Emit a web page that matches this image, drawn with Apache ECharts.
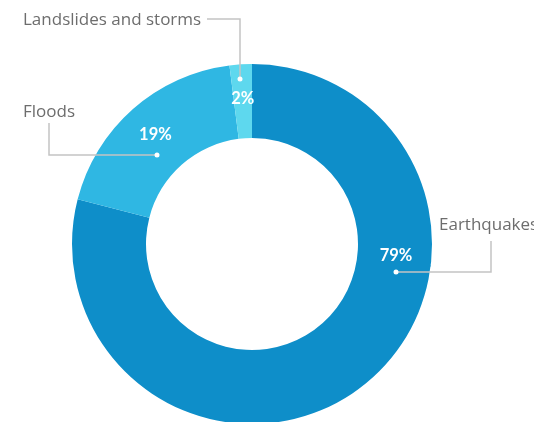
<!DOCTYPE html>
<html>
<head>
    <meta charset="utf-8" />
    <title>Disasters</title>
    <script src="https://cdn.jsdelivr.net/npm/echarts@6/dist/echarts.min.js"></script>
    <style>
        html, body { margin: 0; padding: 0; background: #fff; }
    </style>
</head>
<body>
    <div id="main" style="width:534px;height:422px"></div>
    <script type="text/javascript">

        var categories = ['Earthquakes', 'Floods', 'Landslides and storms'];
        var values = [79, 19, 2];
        var colorList = ['#0e8ec9', '#2fb7e3', '#5ed8ee'];

        // where the percent labels, dots, leader lines and names go (pixels)
        var spots = [
            { pct: [396, 256], dot: [396, 272], bend: [491, 272], end: [491, 241], name: [439, 225] },
            { pct: null,       dot: [157, 155], bend: [49, 155],  end: [49, 123],  name: [23, 112] },
            { pct: null,       dot: [240, 79],  bend: [240, 19],  end: [207, 19],  name: [23, 20] }
        ];

        var chartDom = document.getElementById('main');
        var myChart = echarts.init(chartDom);
        var option;

        var data = categories.map(function (name, index) {
            return {
                name: name,
                value: values[index],
                itemStyle: { color: colorList[index] }
            };
        });

        var pieCenter = [252, 244];
        var pieRadius = [106, 180];

        option = {
            animation: false,
            series: [{
                // the donut itself with the percent labels
                type: 'pie',
                z: 2,
                center: pieCenter,
                radius: pieRadius,
                startAngle: 90,
                clockwise: true,
                silent: true,
                avoidLabelOverlap: false,
                label: {
                    show: true,
                    position: 'inside',
                    formatter: '{d}%',
                    color: '#fff',
                    fontFamily: 'Lato, sans-serif',
                    fontWeight: 'bold',
                    fontSize: 16.5
                },
                labelLayout: function (params) {
                    var s = spots[params.dataIndex];
                    if (!s.pct) return {};
                    return { x: s.pct[0], y: s.pct[1], align: 'center', verticalAlign: 'middle' };
                },
                data: data
            }, {
                // names with leader lines
                type: 'pie',
                z: 3,
                center: pieCenter,
                radius: pieRadius,
                startAngle: 90,
                clockwise: true,
                silent: true,
                avoidLabelOverlap: false,
                itemStyle: { color: 'rgba(0,0,0,0)' },
                label: {
                    show: true,
                    position: 'outside',
                    formatter: '{b}',
                    color: '#6d6d6d',
                    fontFamily: '"Open Sans", sans-serif',
                    fontSize: 17,
                    overflow: 'none'
                },
                labelLine: {
                    show: true,
                    smooth: false,
                    lineStyle: { color: '#c4c4c4', width: 1.5 }
                },
                labelLayout: function (params) {
                    var s = spots[params.dataIndex];
                    return {
                        x: s.name[0],
                        y: s.name[1],
                        align: 'left',
                        verticalAlign: 'middle',
                        labelLinePoints: [s.dot.slice(), s.bend.slice(), s.end.slice()]
                    };
                },
                data: data.map(function (d) { return { name: d.name, value: d.value }; })
            }, {
                // white dots at the start of each leader line
                type: 'pie',
                z: 4,
                center: pieCenter,
                radius: pieRadius,
                startAngle: 90,
                clockwise: true,
                silent: true,
                avoidLabelOverlap: false,
                itemStyle: { color: 'rgba(0,0,0,0)' },
                label: {
                    show: true,
                    position: 'inside',
                    formatter: '{dot| }',
                    rich: {
                        dot: { width: 5, height: 5, borderRadius: 2.5, backgroundColor: '#fff', fontSize: 4 }
                    }
                },
                labelLayout: function (params) {
                    var s = spots[params.dataIndex];
                    return { x: s.dot[0], y: s.dot[1], align: 'center', verticalAlign: 'middle' };
                },
                data: data.map(function (d) { return { name: d.name, value: d.value }; })
            }]
        };

        option && myChart.setOption(option);

    </script>
</body>
</html>
